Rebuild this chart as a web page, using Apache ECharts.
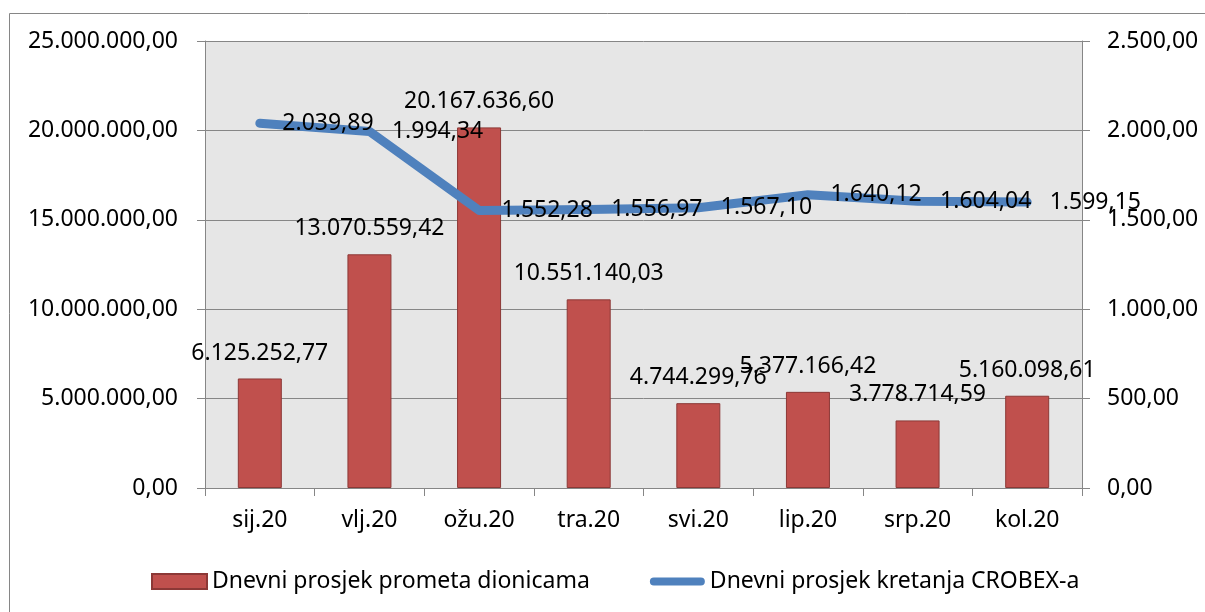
<!DOCTYPE html>
<html>
<head>
<meta charset="utf-8">
<script src="https://cdn.jsdelivr.net/npm/echarts@6/dist/echarts.min.js"></script>
<style>
html,body{margin:0;padding:0;background:#fff;}
#c{width:1205px;height:612px;}
</style>
</head>
<body>
<div id="c"></div>
<script>
const categories = ['sij.20','vlj.20','ožu.20','tra.20','svi.20','lip.20','srp.20','kol.20'];
const turnover = [6125252.77, 13070559.42, 20167636.60, 10551140.03, 4744299.76, 5377166.42, 3778714.59, 5160098.61];
const crobex = [2039.89, 1994.34, 1552.28, 1556.97, 1567.10, 1640.12, 1604.04, 1599.15];
const seriesNames = ['Dnevni prosjek prometa dionicama', 'Dnevni prosjek kretanja CROBEX-a'];

function fmt(v){
  const neg = v < 0; v = Math.abs(v);
  const parts = v.toFixed(2).split('.');
  const intp = parts[0].replace(/\B(?=(\d{3})+(?!\d))/g, '.');
  return (neg ? '-' : '') + intp + ',' + parts[1];
}

const FONT = 'Noto Sans';
const FS = 23;
const GRAY = '#868686';
const LINE_ICON = 'path://M4.5,0 L57.5,0 A4.5,4.5 0 0 1 57.5,9 L4.5,9 A4.5,4.5 0 0 1 4.5,0 Z';

const chart = echarts.init(document.getElementById('c'));
chart.setOption({
  animation: false,
  textStyle: {fontFamily: FONT},
  graphic: [{
    type: 'rect', left: 7, top: 11, silent: true,
    shape: {width: 1220, height: 630},
    style: {fill: 'none', stroke: GRAY, lineWidth: 1}
  }],
  grid: {left: 205, right: 123, top: 41, bottom: 124, show: true, backgroundColor: '#e6e6e6', borderWidth: 0},
  legend: {
    left: 146, top: 565,
    itemWidth: 55, itemHeight: 15, itemGap: 60,
    textStyle: {fontFamily: FONT, fontSize: FS, color: '#000'},
    data: [
      {name: seriesNames[0], icon: 'rect'},
      {name: seriesNames[1], icon: LINE_ICON, itemStyle: {color: '#4f81bd'}}
    ]
  },
  xAxis: {
    type: 'category', data: categories,
    axisLine: {lineStyle: {color: GRAY, width: 1}},
    axisTick: {show: true, length: 8, lineStyle: {color: GRAY}},
    axisLabel: {color: '#000', fontSize: FS, fontFamily: FONT, margin: 21}
  },
  yAxis: [{
    type: 'value', min: 0, max: 25000000, interval: 5000000,
    axisLine: {show: true, lineStyle: {color: GRAY}},
    axisTick: {show: true, length: 8, lineStyle: {color: GRAY}},
    splitLine: {show: true, lineStyle: {color: GRAY, width: 1}},
    axisLabel: {color: '#000', fontSize: FS, fontFamily: FONT, margin: 27, formatter: v => fmt(v)}
  }, {
    type: 'value', min: 0, max: 2500, interval: 500, position: 'right',
    axisLine: {show: true, lineStyle: {color: GRAY}},
    axisTick: {show: true, length: 8, lineStyle: {color: GRAY}},
    splitLine: {show: false},
    axisLabel: {color: '#000', fontSize: FS, fontFamily: FONT, margin: 25, formatter: v => fmt(v)}
  }],
  series: [{
    name: seriesNames[0], type: 'bar', data: turnover, yAxisIndex: 0,
    barWidth: 44,
    itemStyle: {color: '#c0504d', borderColor: '#8c3836', borderWidth: 1},
    label: {show: true, position: 'top', distance: 14, color: '#000', fontSize: FS, fontFamily: FONT, formatter: p => fmt(p.value)}
  }, {
    name: seriesNames[1], type: 'line', data: crobex, yAxisIndex: 1,
    symbol: 'circle', symbolSize: 1, showSymbol: true,
    itemStyle: {color: '#4f81bd'},
    lineStyle: {color: '#4f81bd', width: 9, cap: 'round', join: 'round'},
    label: {show: true, position: 'right', distance: 22, color: '#000', fontSize: FS, fontFamily: FONT, formatter: p => fmt(p.value)},
    z: 3
  }]
});
</script>
</body>
</html>
